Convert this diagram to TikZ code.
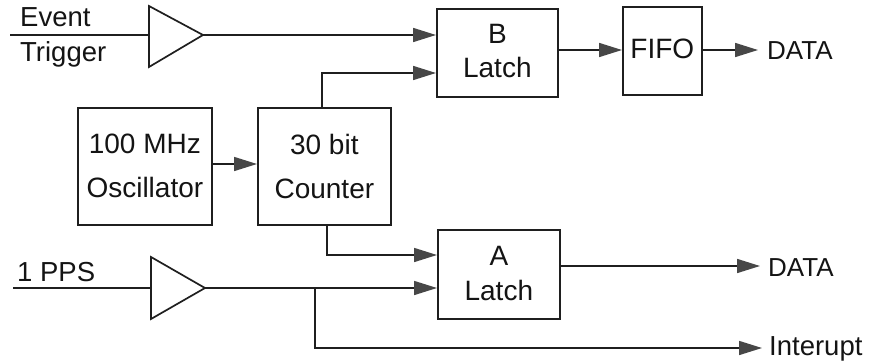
\documentclass[tikz,border=0pt]{standalone}
\usepackage{fontspec}
\setmainfont{Liberation Sans}
\usetikzlibrary{arrows.meta}
\tikzset{
 blockbox/.style={draw=black!88,line width=1.7pt,fill=white,align=center,inner sep=0pt,anchor=north west,text=black!92},
 widelines/.style={font=\fontsize{28}{44}\selectfont},
 narrowlines/.style={font=\fontsize{28}{34}\selectfont},
 wire/.style={draw=black!88,line width=1.6pt},
 arr/.style={wire,-{Triangle[length=23pt,width=14pt,color=black!72]}},
 amp/.style={draw=black!88,line width=1.7pt,fill=white,line join=miter},
 lab/.style={font=\fontsize{27.5}{30}\selectfont,inner sep=0pt,text=black!92,anchor=base west},
 datalab/.style={lab,font=\fontsize{26}{30}\selectfont}
}
\begin{document}
\begin{tikzpicture}[x=1pt,y=-1pt]
\useasboundingbox (0,0) rectangle (870,364);
\fill[white] (0,0) rectangle (870,364);
\node[blockbox,widelines,minimum width=134pt,minimum height=117pt] (osc) at (77,107) {100 MHz\\Oscillator};
\node[blockbox,widelines,minimum width=133pt,minimum height=117pt] (cnt) at (257,107) {30 bit\\Counter};
\node[blockbox,narrowlines,minimum width=121pt,minimum height=88pt] (b) at (436,8) {\raisebox{3pt}{B}\\\raisebox{3pt}{Latch}};
\node[blockbox,narrowlines,minimum width=79pt,minimum height=88pt] (f) at (622,6) {\raisebox{4pt}{FIFO}};
\node[blockbox,narrowlines,minimum width=122pt,minimum height=89pt] (a) at (437,229) {\raisebox{2pt}{A}\\\raisebox{1pt}{Latch}};
\coordinate (t1a) at (149,6); \coordinate (t1b) at (149,67); \coordinate (t1c) at (203,35);
\coordinate (t2a) at (151,257); \coordinate (t2b) at (151,319); \coordinate (t2c) at (205,288);
\draw[amp] (t1a)--(t1c)--(t1b)--cycle;
\draw[amp] (t2a)--(t2c)--(t2b)--cycle;
\node[lab] (ev) at (20,27) {Event};
\node[lab] (tr) at (20,61) {Trigger};
\node[lab] (pps) at (17,281) {1 PPS};
\node[datalab] (d1) at (767,59) {DATA};
\node[datalab] (d2) at (768,276) {DATA};
\node[lab] (int) at (769,355) {Interupt};
\coordinate (i1) at (10,35); \coordinate (i2) at (13,288);
\coordinate (c1) at (322,107); \coordinate (c1e) at (436,73);
\coordinate (c2) at (327,224); \coordinate (c2e) at (437,255);
\coordinate (j) at (315,288);
\coordinate (e1) at (758,50); \coordinate (e2) at (760,266); \coordinate (e3) at (762,348);
\draw[wire] (i1)--(t1a|-i1);
\draw[wire] (i2)--(t2a|-i2);
\draw[arr] (t1c)--(b.west|-t1c);
\draw[arr] (c1)|-(c1e);
\draw[arr] (osc.east|-0,164)--(cnt.west|-0,164);
\draw[arr] (c2)|-(c2e);
\draw[arr] (t2c)--(a.west|-t2c);
\draw[arr] (b.east|-0,50)--(f.west|-0,50);
\draw[arr] (f.east|-0,50)--(e1);
\draw[arr] (a.east|-e2)--(e2);
\draw[arr] (j)|-(e3);
\end{tikzpicture}
\end{document}
